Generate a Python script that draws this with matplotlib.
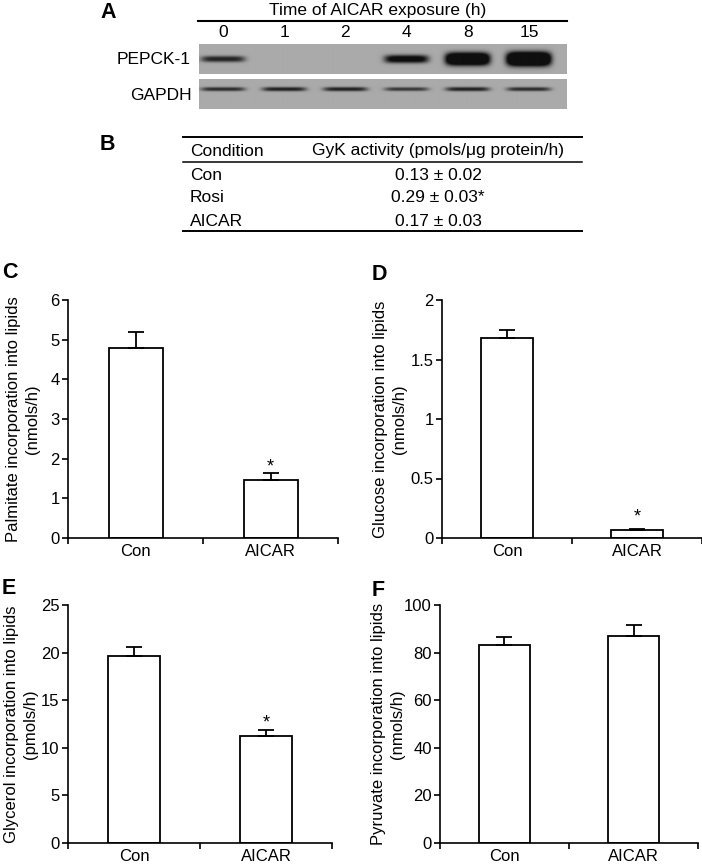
import numpy as np
import matplotlib
matplotlib.use('Agg')
import matplotlib.pyplot as plt

plt.rcParams['font.family'] = ['Liberation Sans', 'DejaVu Sans']

# panel A: western blot
lanes = ['0', '1', '2', '4', '8', '15']
pepck_level = [0.4, 0.0, 0.0, 0.55, 0.9, 1.0]
gapdh_level = [0.55, 0.6, 0.6, 0.5, 0.6, 0.55]

# panel B: table
conditions = ['Con', 'Rosi', 'AICAR']
gyk_mean = [0.13, 0.29, 0.17]
gyk_sem = [0.02, 0.03, 0.03]
gyk_sig = [False, True, False]

# panels C-F
groups = ['Con', 'AICAR']
palmitate = [4.8, 1.45]
palmitate_err = [0.4, 0.2]
glucose = [1.68, 0.07]
glucose_err = [0.07, 0.005]
glycerol = [19.6, 11.2]
glycerol_err = [1.0, 0.7]
pyruvate = [83.0, 86.8]
pyruvate_err = [3.5, 5.0]

W, H = 702, 866
fig = plt.figure(figsize=(W / 100, H / 100), dpi=100)

def px_axes(x0, y0, x1, y1):
    return fig.add_axes([x0 / W, 1 - y1 / H, (x1 - x0) / W, (y1 - y0) / H])

ov = fig.add_axes([0, 0, 1, 1])
ov.set_xlim(0, W)
ov.set_ylim(H, 0)
ov.axis('off')

fs = 12.5
# panel letters
for lab, x, y in [('A', 100, 12), ('B', 100, 145), ('C', 2, 273),
                  ('D', 372, 274), ('E', 2, 588), ('F', 372, 590)]:
    ov.text(x, y, lab, fontsize=15.5, fontweight='bold', ha='left', va='center')

# ---- blot ----
xlo, xhi = -0.39, 5.62
def blot(ax, levels, yc, hh, hscale, gain):
    xs = np.linspace(xlo, xhi, 600)
    ys = np.linspace(-1, 1, 90)
    X, Y = np.meshgrid(xs, ys)
    dark = np.zeros_like(X)
    for i, lv in enumerate(levels):
        if lv <= 0:
            continue
        h = hh + hscale * lv
        d = np.exp(-np.abs((X - i) / 0.36) ** 6 - np.abs((Y - yc) / h) ** 2.5)
        dark = np.maximum(dark, np.clip(d * lv * gain, 0, 1))
    bg = 0.665
    img = bg - (bg - 0.06) * dark
    ax.imshow(img, cmap='gray', vmin=0, vmax=1, extent=[xlo, xhi, -1, 1],
              aspect='auto', origin='lower', interpolation='bilinear')
    ax.set_xlim(xlo, xhi)
    ax.set_ylim(-1, 1)
    ax.axis('off')

ax_p = px_axes(199, 44, 567, 74)
blot(ax_p, pepck_level, 0.0, 0.04, 0.42, 2.2)
ax_g = px_axes(199, 79, 567, 109)
blot(ax_g, gapdh_level, 0.33, 0.07, 0.12, 1.5)

for i, lab in enumerate(lanes):
    ax_p.text(i, 1.37, lab, fontsize=fs, ha='center', va='center',
              transform=ax_p.get_xaxis_transform())
ov.text(378, 10, 'Time of AICAR exposure (h)', fontsize=fs, ha='center', va='center')
ov.plot([198, 567], [21, 21], color='k', lw=1.5)
ov.text(191, 60, 'PEPCK-1', fontsize=fs, ha='right', va='center')
ov.text(192, 95, 'GAPDH', fontsize=fs, ha='right', va='center')

# ---- table ----
ov.plot([183, 582], [137, 137], color='k', lw=1.4)
ov.plot([183, 582], [162, 162], color='k', lw=1.1)
ov.plot([183, 582], [231, 231], color='k', lw=1.4)
ov.text(190, 151, 'Condition', fontsize=fs, ha='left', va='center')
ov.text(438, 151, 'GyK activity (pmols/\u03bcg protein/h)', fontsize=fs, ha='center', va='center')
for k, (c, m, s, sg) in enumerate(zip(conditions, gyk_mean, gyk_sem, gyk_sig)):
    y = 175 + 23 * k
    ov.text(190, y, c, fontsize=fs, ha='left', va='center')
    ov.text(438, y, f'{m:.2f} \u00b1 {s:.2f}' + ('*' if sg else ''), fontsize=fs,
            ha='center', va='center')

# ---- bar panels ----
panels = [
    ((68, 300, 338, 538), palmitate, palmitate_err, [0, 1, 2, 3, 4, 5, 6],
     'Palmitate incorporation into lipids\n(nmols/h)', 28, 4),
    ((442, 300, 702, 538), glucose, glucose_err, [0, 0.5, 1, 1.5, 2],
     'Glucose incorporation into lipids\n(nmols/h)', 35, 9),
    ((68, 605, 332, 843), glycerol, glycerol_err, [0, 5, 10, 15, 20, 25],
     'Glycerol incorporation into lipids\n(pmols/h)', 30, 5),
    ((440, 605, 698, 843), pyruvate, pyruvate_err, [0, 20, 40, 60, 80, 100],
     'Pyruvate incorporation into lipids\n(nmols/h)', 35, None),
]

for rect, vals, errs, yt, ylab, lab_dx, star_off in panels:
    ax = px_axes(*rect)
    x = np.array([0.5, 1.5])
    ax.bar(x, vals, width=0.4, color='white', edgecolor='black', linewidth=1.3, zorder=2)
    ax.errorbar(x, vals, yerr=[np.zeros(2), errs], fmt='none', ecolor='black',
                elinewidth=1.3, capsize=6, capthick=1.3, zorder=3)
    ax.set_xlim(0, 2)
    ax.set_ylim(0, yt[-1])
    ax.set_yticks(yt)
    ax.set_yticklabels([f'{t:g}' for t in yt])
    ax.set_xticks([0, 1, 2])
    ax.set_xticklabels([])
    ax.set_xticks(x, minor=True)
    ax.set_xticklabels(groups, minor=True)
    ax.tick_params(axis='x', which='minor', length=0, pad=4.5, labelsize=12)
    ax.tick_params(axis='x', which='major', length=4, width=1.2, direction='out')
    ax.tick_params(axis='y', length=4, width=1.2, direction='out', pad=2, labelsize=12)
    for sp in ['top', 'right']:
        ax.spines[sp].set_visible(False)
    for sp in ['left', 'bottom']:
        ax.spines[sp].set_linewidth(1.2)
    ax.set_ylabel(ylab, fontsize=12, linespacing=1.3)
    ax.yaxis.set_label_coords(-lab_dx / (rect[2] - rect[0]), 0.5)
    if star_off is not None:
        ax.annotate('*', xy=(1.5, vals[1] + errs[1]), xytext=(0, star_off),
                    textcoords='offset points', ha='center', va='center', fontsize=13)

fig.savefig('out.png', dpi=100)
